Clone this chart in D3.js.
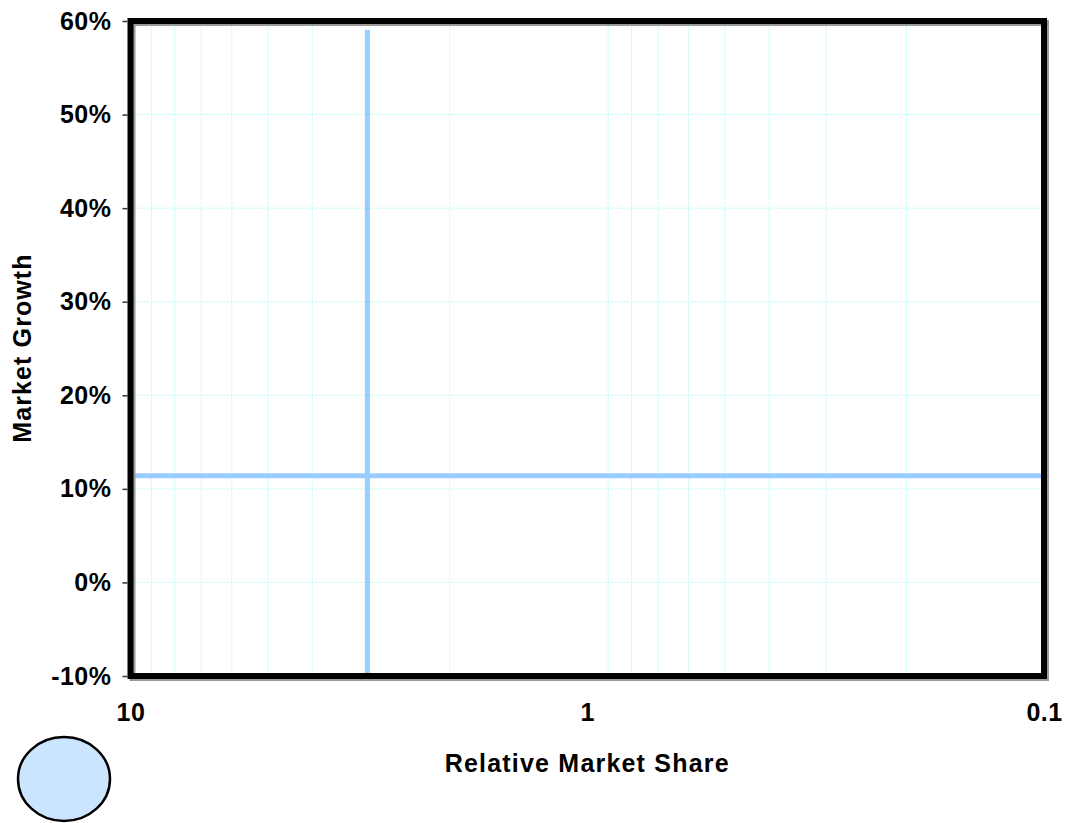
<!DOCTYPE html>
<html><head><meta charset="utf-8">
<script src="https://cdn.jsdelivr.net/npm/d3@7"></script>
<style>body{margin:0;background:#fff;} svg{display:block;font-family:Arial,"Liberation Sans",sans-serif;font-weight:bold;}</style>
</head><body>
<svg id="c" width="1066" height="823"></svg>
<script>
const xDomain = [10, 0.1];
const yDomain = [-10, 60];
const xTickValues = [10, 1, 0.1];
const xTickLabels = ["10", "1", "0.1"];
const yTickValues = [-10, 0, 10, 20, 30, 40, 50, 60];
const xGridValues = [9,8,7,6,5,4,3,2,0.9,0.8,0.7,0.6,0.5,0.4,0.3,0.2];
const dividerShare = [3.03];
const dividerGrowth = [11.4];
const xTitle = "Relative Market Share";
const yTitle = "Market Growth";

const svg = d3.select("#c");
const L = 130.5, R = 1044, T = 21, B = 676;
const x = d3.scaleLog().domain(xDomain).range([L, R]);
const y = d3.scaleLinear().domain(yDomain).range([B, T]);
const FONT = "Arial, 'Liberation Sans', sans-serif";

// grid
const g = svg.append("g");
g.selectAll("line.hg").data(yTickValues).join("line")
  .attr("x1", L).attr("x2", R).attr("y1", d => y(d)).attr("y2", d => y(d))
  .attr("stroke", "#c8fafa").attr("stroke-width", 1).attr("stroke-dasharray", "3,1");
g.selectAll("line.vg").data(xGridValues).join("line")
  .attr("y1", T).attr("y2", B).attr("x1", d => x(d)).attr("x2", d => x(d))
  .attr("stroke", "#c8fafa").attr("stroke-width", 1).attr("stroke-dasharray", "3,1");

// divider lines
svg.selectAll("line.dv").data(dividerShare).join("line")
  .attr("x1", d => x(d)).attr("x2", d => x(d)).attr("y1", 30).attr("y2", B - 3)
  .attr("stroke", "#99ccff").attr("stroke-width", 5);
svg.selectAll("line.dh").data(dividerGrowth).join("line")
  .attr("x1", L).attr("x2", R - 1).attr("y1", d => y(d)).attr("y2", d => y(d))
  .attr("stroke", "#99ccff").attr("stroke-width", 5);

// frame with slight shadow
svg.append("rect").attr("x", L + 2).attr("y", T + 2).attr("width", R - L).attr("height", B - T)
  .attr("fill", "none").attr("stroke", "#999").attr("stroke-width", 6);
svg.append("rect").attr("x", L).attr("y", T).attr("width", R - L).attr("height", B - T)
  .attr("fill", "none").attr("stroke", "#000").attr("stroke-width", 6);

// y axis
const ya = svg.append("g").attr("transform", `translate(${L - 3},0)`)
  .call(d3.axisLeft(y).tickValues(yTickValues).tickFormat(d => d + "%").tickSize(5).tickPadding(11));
ya.select(".domain").remove();
ya.selectAll("line").attr("stroke", "#333").attr("stroke-width", 1.5);
ya.selectAll("text").attr("font-size", 25).attr("font-weight", "bold").attr("fill", "#000")
  .attr("letter-spacing", 0.5).attr("font-family", FONT);

// x axis
const xa = svg.append("g").attr("transform", `translate(0,${B})`)
  .call(d3.axisBottom(x).tickValues(xTickValues).tickFormat((d, i) => xTickLabels[i]).tickSize(0).tickPadding(27));
xa.select(".domain").remove();
xa.selectAll("text").attr("font-size", 25).attr("font-weight", "bold").attr("fill", "#000")
  .attr("letter-spacing", 0.5).attr("font-family", FONT);

// titles
svg.append("text").attr("x", (L + R) / 2).attr("y", 772).attr("text-anchor", "middle")
  .attr("font-size", 25).attr("letter-spacing", 1.2).text(xTitle);
svg.append("text").attr("transform", `translate(31,348) rotate(-90)`).attr("text-anchor", "middle")
  .attr("font-size", 25).attr("letter-spacing", 1.1).text(yTitle);

// bubble legend
svg.append("ellipse").attr("cx", 64).attr("cy", 779).attr("rx", 46).attr("ry", 42)
  .attr("fill", "#cce5ff").attr("stroke", "#000").attr("stroke-width", 2.5);
</script>
</body></html>
